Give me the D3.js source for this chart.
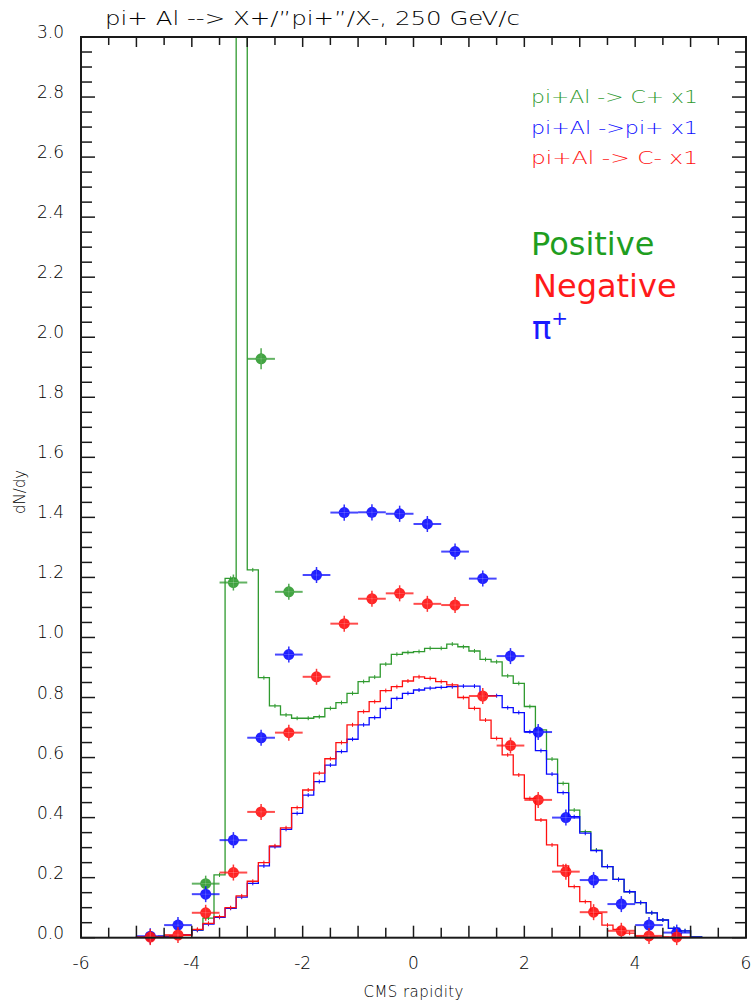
<!DOCTYPE html>
<html>
<head>
<meta charset="utf-8">
<script src="https://cdn.jsdelivr.net/npm/d3@7"></script>
<style>
  body { margin: 0; background: #fff; }
  svg { display: block; }
  text { font-family: "DejaVu Sans Mono", monospace; }
</style>
</head>
<body>
<svg id="chart" width="752" height="1000"></svg>
<script>
// ---- data -------------------------------------------------------------
// lower edges of the 0.2-wide model histogram bins
const binLo = [-5.0,-4.8,-4.6,-4.4,-4.2,-4.0,-3.8,-3.6,-3.4,-3.2,-3.0,-2.8,-2.6,-2.4,-2.2,-2.0,-1.8,-1.6,-1.4,-1.2,-1.0,
  -0.8,-0.6,-0.4,-0.2,0.0,0.2,0.4,0.6,0.8,1.0,1.2,1.4,1.6,1.8,2.0,2.2,2.4,2.6,2.8,3.0,3.2,3.4,3.6,3.8,4.0,4.2,4.4,4.6,4.8,5.0];
const binWidth = 0.2;

// model: positive charged (green)
const histPos = [0.002,0.003,0.004,0.006,0.010,0.025,0.065,0.209,1.197,4.500,1.225,0.866,0.772,0.742,0.731,0.731,0.736,0.764,0.783,0.814,0.853,
  0.868,0.911,0.944,0.950,0.953,0.964,0.964,0.978,0.969,0.955,0.927,0.919,0.872,0.847,0.770,0.692,0.595,0.514,0.425,0.353,0.292,0.237,0.194,0.153,0.117,0.083,0.059,0.031,0.023,0.003];
// model: pi+ (blue)
const histPip = [0.002,0.003,0.004,0.006,0.010,0.025,0.045,0.068,0.098,0.135,0.181,0.239,0.303,0.361,0.414,0.475,0.520,0.575,0.620,0.661,0.709,
  0.733,0.764,0.797,0.814,0.825,0.831,0.834,0.836,0.838,0.838,0.806,0.806,0.766,0.750,0.686,0.623,0.545,0.483,0.403,0.348,0.290,0.237,0.194,0.153,0.117,0.083,0.059,0.031,0.023,0.003];
// model: negative charged (red)
const histNeg = [0.000,0.001,0.002,0.004,0.008,0.028,0.048,0.070,0.100,0.139,0.188,0.250,0.306,0.366,0.433,0.492,0.548,0.596,0.650,0.709,0.753,
  0.786,0.823,0.836,0.855,0.869,0.864,0.853,0.842,0.800,0.764,0.725,0.664,0.609,0.542,0.464,0.392,0.309,0.239,0.170,0.120,0.081,0.042,0.028,0.015,0.005,0.002,0.001,0,0,0];

// measured points (bin centres in rapidity)
const ptY = [-4.75,-4.25,-3.75,-3.25,-2.75,-2.25,-1.75,-1.25,-0.75,-0.25,0.25,0.75,1.25,1.75,2.25,2.75,3.25,3.75,4.25,4.75];
const posX   = [-3.75,-3.25,-2.75,-2.25];
const posVal = [0.180,1.183,1.928,1.152];
const posErr = [0.022,0.025,0.035,0.025];
const pipVal = [0.005,0.042,0.145,0.325,0.666,0.943,1.208,1.416,1.417,1.412,1.378,1.286,1.196,0.938,0.685,0.400,0.192,0.112,0.042,0.017];
const pipErr = [0.005,0.008,0.012,0.015,0.020,0.022,0.025,0.027,0.027,0.027,0.026,0.025,0.024,0.022,0.020,0.015,0.012,0.010,0.008,0.005];
const negVal = [0.002,0.009,0.083,0.217,0.419,0.683,0.869,1.046,1.129,1.147,1.112,1.108,0.805,0.640,0.459,0.220,0.085,0.023,0.006,0.002];
const negErr = [0.004,0.006,0.010,0.014,0.018,0.020,0.022,0.024,0.025,0.025,0.025,0.025,0.022,0.020,0.018,0.014,0.010,0.006,0.004,0.004];

const xTickLabels = [-6,-4,-2,0,2,4,6];
const yTickLabels = [0.0,0.2,0.4,0.6,0.8,1.0,1.2,1.4,1.6,1.8,2.0,2.2,2.4,2.6,2.8,3.0];

const legendLines = ["pi+Al -> C+ x1", "pi+Al ->pi+ x1", "pi+Al -> C- x1"];
const titleText = "pi+ Al --> X+/\u201dpi+\u201d/X-, 250 GeV/c";

// ---- layout -----------------------------------------------------------
const GREEN = "#2f9a2f", BLUE = "#0a0aff", RED = "#ff1010";
const svg = d3.select("#chart");
const x = d3.scaleLinear().domain([-6, 6]).range([81, 746]);
const y = d3.scaleLinear().domain([0, 3]).range([937.7, 37]);
const [x0, x1] = x.range(), [yb, yt] = y.range();

svg.append("clipPath").attr("id", "plotArea")
  .append("rect").attr("x", x0).attr("y", yt).attr("width", x1 - x0).attr("height", yb - yt);

// ---- model histograms ---------------------------------------------------
function stepPoints(vals) {
  const pts = [[binLo[0], 0]];
  vals.forEach((v, i) => pts.push([binLo[i], v]));
  const end = binLo[binLo.length - 1] + binWidth;
  pts.push([end, vals[vals.length - 1]]);
  pts.push([end, 0]);
  return pts;
}
const stepLine = d3.line().x(d => x(d[0])).y(d => y(d[1])).curve(d3.curveStepAfter);
const hg = svg.append("g").attr("clip-path", "url(#plotArea)");
[[histPos, GREEN], [histPip, BLUE], [histNeg, RED]].forEach(([vals, col]) => {
  hg.append("path").attr("d", stepLine(stepPoints(vals)))
    .attr("fill", "none").attr("stroke", col).attr("stroke-width", 1.3);
  // small statistical error ticks at bin centres
  hg.selectAll(null).data(vals.map((v, i) => [binLo[i] + binWidth / 2, v]).filter(d => d[1] > 0.01))
    .join("line")
    .attr("x1", d => x(d[0])).attr("x2", d => x(d[0]))
    .attr("y1", d => y(d[1]) - 2).attr("y2", d => y(d[1]) + 2)
    .attr("stroke", col).attr("stroke-width", 1);
});

// ---- data points ----------------------------------------------------------
function drawPoints(xs, vals, errs, col) {
  const g = svg.append("g");
  const d = xs.map((xv, i) => ({ x: xv, v: vals[i], e: errs[i] }));
  g.selectAll(null).data(d).join("line")
    .attr("x1", p => x(p.x - 0.25)).attr("x2", p => x(p.x + 0.25))
    .attr("y1", p => y(p.v)).attr("y2", p => y(p.v))
    .attr("stroke", col).attr("stroke-width", 2).attr("stroke-opacity", 0.75);
  g.selectAll(null).data(d).join("line")
    .attr("x1", p => x(p.x)).attr("x2", p => x(p.x))
    .attr("y1", p => Math.min(y(p.v) - 8, y(p.v + p.e))).attr("y2", p => Math.max(y(p.v) + 8, y(p.v - p.e)))
    .attr("stroke", col).attr("stroke-width", 1.5).attr("stroke-opacity", 0.85);
  g.selectAll(null).data(d).join("circle")
    .attr("cx", p => x(p.x)).attr("cy", p => y(p.v)).attr("r", 5.5)
    .attr("fill", col).attr("fill-opacity", 0.9);
  // cross-hair drawn over the marker
  g.selectAll(null).data(d).join("path")
    .attr("d", p => `M${x(p.x) - 5},${y(p.v)}H${x(p.x) + 5}M${x(p.x)},${y(p.v) - 5}V${y(p.v) + 5}`)
    .attr("stroke", "#fff").attr("stroke-opacity", 0.25).attr("stroke-width", 1);
}
drawPoints(posX, posVal, posErr, GREEN);
drawPoints(ptY, pipVal, pipErr, BLUE);
drawPoints(ptY, negVal, negErr, RED);

// ---- frame and ticks ------------------------------------------------------
const axisCol = "#1a1a1a";
const ag = svg.append("g").attr("stroke", axisCol);
ag.append("rect").attr("x", x0).attr("y", yt).attr("width", x1 - x0).attr("height", yb - yt)
  .attr("fill", "none").attr("stroke-width", 2);

const xMinor = d3.range(-6, 6.001, 0.5);
xMinor.forEach(v => {
  const L = Number.isInteger(v) ? 12 : 10;
  ag.append("line").attr("x1", x(v)).attr("x2", x(v)).attr("y1", yb).attr("y2", yb - L).attr("stroke-width", 1.5);
  ag.append("line").attr("x1", x(v)).attr("x2", x(v)).attr("y1", yt).attr("y2", yt + L - 2).attr("stroke-width", 1.5);
});
const yMinor = d3.range(0, 3.0001, 0.05);
yMinor.forEach(v => {
  const major = Math.abs(v * 5 - Math.round(v * 5)) < 1e-6;
  const L = major ? 14 : 11;
  ag.append("line").attr("x1", x0).attr("x2", x0 + L).attr("y1", y(v)).attr("y2", y(v)).attr("stroke-width", 1.5);
  ag.append("line").attr("x1", x1).attr("x2", x1 - L).attr("y1", y(v)).attr("y2", y(v)).attr("stroke-width", 1.5);
});

// tick labels
const labelStyle = s => s.attr("fill", "#000").attr("font-size", 17)
  .style("font-family", "'DejaVu Sans', sans-serif").attr("font-weight", 200);
svg.append("g").selectAll("text").data(xTickLabels).join("text")
  .attr("x", d => x(d)).attr("y", yb + 31).attr("text-anchor", "middle")
  .text(d => d).call(labelStyle);
svg.append("g").selectAll("text").data(yTickLabels).join("text")
  .attr("x", 64).attr("y", d => y(d) + 1).attr("text-anchor", "end")
  .text(d => d.toFixed(1)).call(labelStyle);

// axis titles
const axTitle = s => s.attr("font-size", 15).attr("fill", "#000")
  .style("font-family", "'DejaVu Sans', sans-serif").attr("font-weight", 200);
svg.append("text").attr("x", x(0)).attr("y", 997).attr("text-anchor", "middle")
  .attr("textLength", 100).text("CMS rapidity").call(axTitle);
svg.append("text").attr("transform", "translate(25,492) rotate(-90)").attr("text-anchor", "middle")
  .text("dN/dy").call(axTitle);

// title
svg.append("text").attr("x", 105).attr("y", 25).attr("font-size", 19).attr("fill", "#000")
  .style("font-family", "'DejaVu Sans', sans-serif").attr("font-weight", 200)
  .attr("textLength", 415).attr("lengthAdjust", "spacingAndGlyphs").text(titleText);

// legend
[GREEN, BLUE, RED].forEach((col, i) => {
  svg.append("text").attr("x", 531).attr("y", 103 + i * 30.5).attr("font-size", 18)
    .style("font-family", "'DejaVu Sans', sans-serif").attr("font-weight", 200)
    .attr("fill", col).attr("textLength", 167).attr("lengthAdjust", "spacingAndGlyphs").text(legendLines[i]);
});

// big labels
const big = svg.append("g").attr("font-size", 32);
big.append("text").attr("x", 531).attr("y", 255).attr("fill", "#1f9e1f").text("Positive").style("font-family", "DejaVu Sans");
big.append("text").attr("x", 533).attr("y", 297).attr("fill", "#ff1a1a").text("Negative").style("font-family", "DejaVu Sans");
const pt = big.append("text").attr("x", 532).attr("y", 339).attr("fill", "#1a1aff").style("font-family", "DejaVu Sans");
pt.append("tspan").text("\u03c0");
pt.append("tspan").attr("dy", -14).attr("font-size", 20).text("+");
</script>
</body>
</html>
